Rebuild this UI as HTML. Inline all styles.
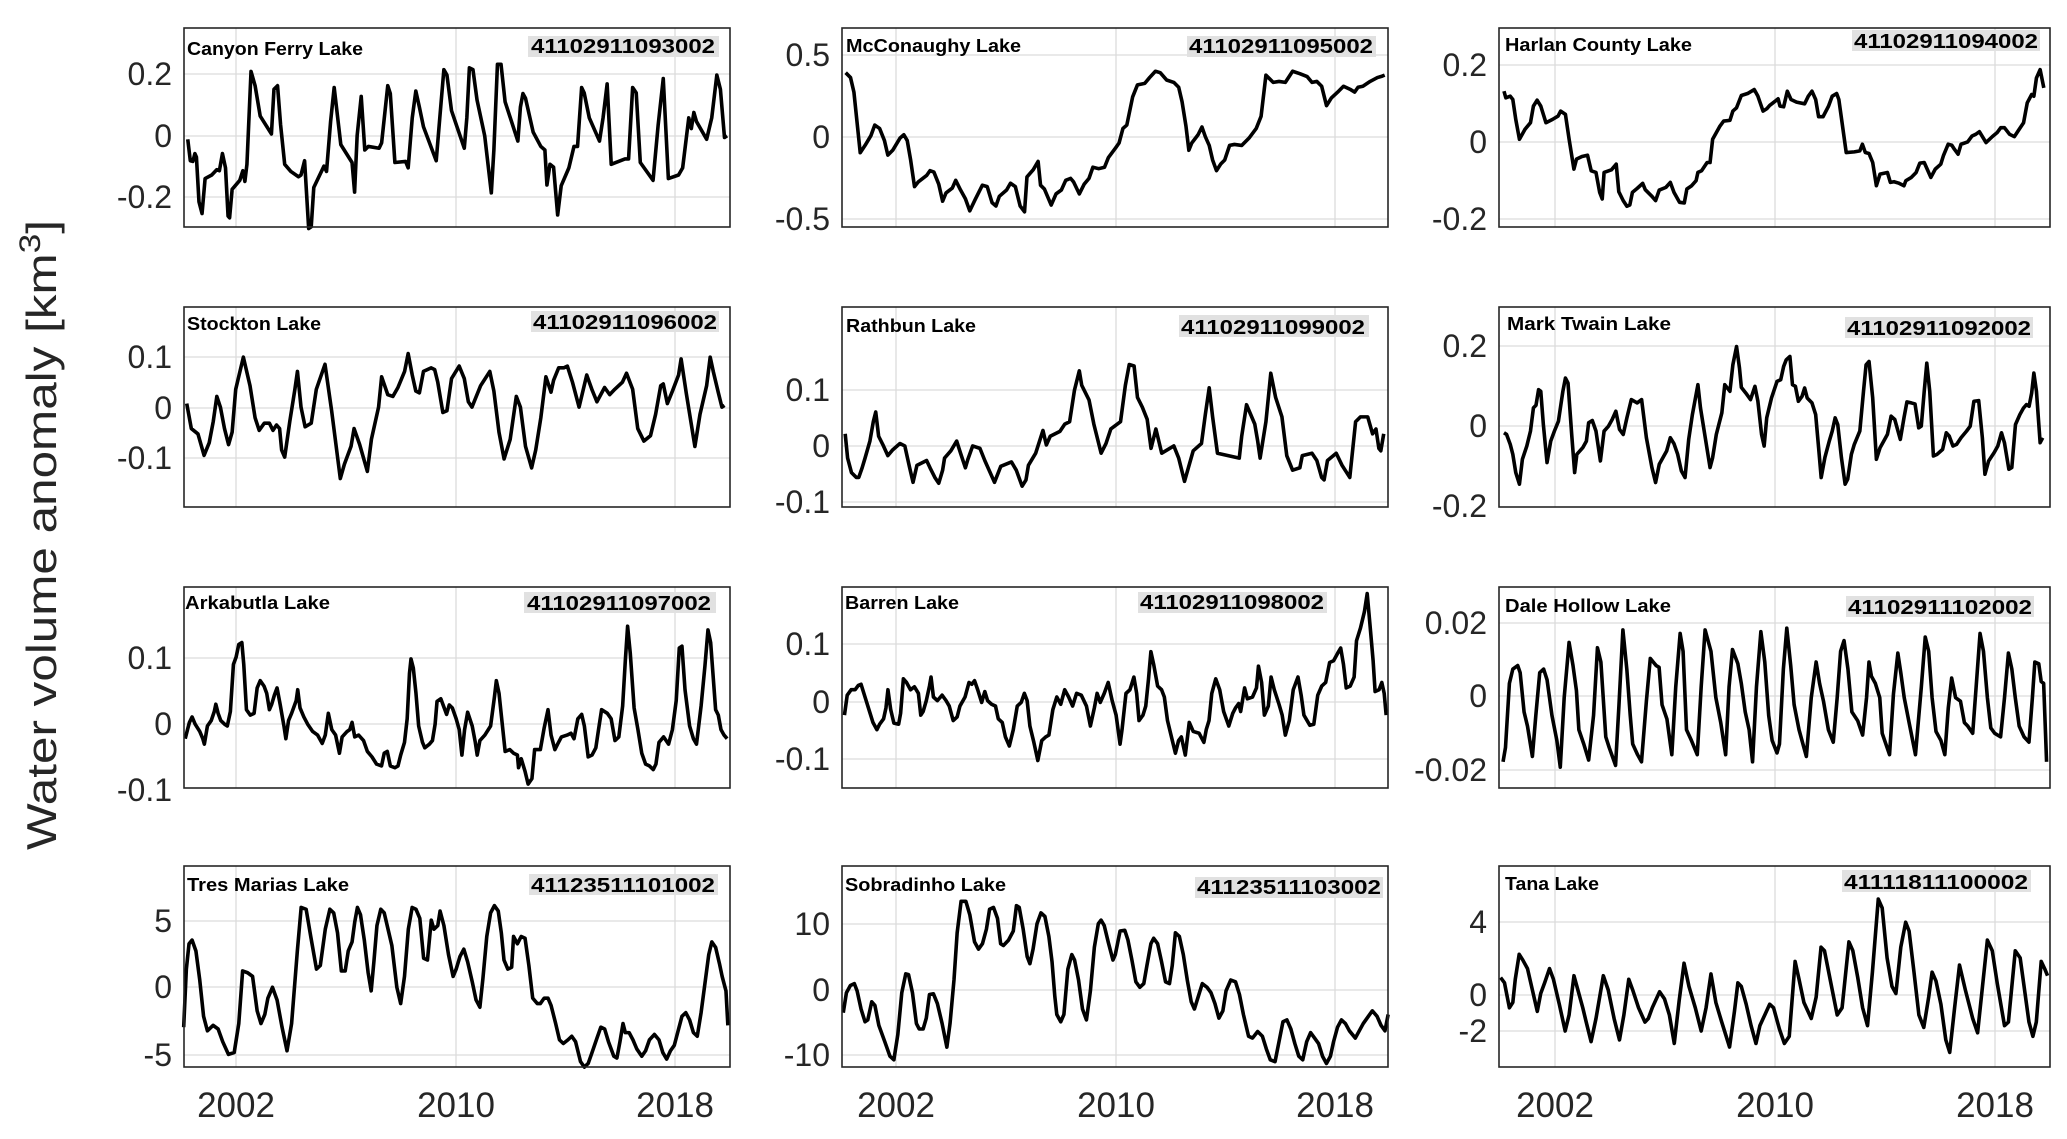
<!DOCTYPE html>
<html><head><meta charset="utf-8"><style>
html,body{margin:0;padding:0;background:#fff;}
svg{display:block;}
.ax{fill:none;stroke:#262626;stroke-width:1.6;}
.g{stroke:#dcdcdc;stroke-width:1.3;}
.tk{font-family:"Liberation Sans",Arial,sans-serif;font-size:32px;fill:#262626;text-anchor:end;}
.yr{font-family:"Liberation Sans",Arial,sans-serif;font-size:35px;fill:#262626;text-anchor:middle;}
.nm{font-family:"Liberation Sans",Arial,sans-serif;font-size:18px;font-weight:bold;fill:#000;}
.id{font-family:"Liberation Sans",Arial,sans-serif;font-size:20px;font-weight:bold;fill:#000;}
.bx{fill:#e1e1e1;}
.ln{fill:none;stroke:#000;stroke-width:3.6;stroke-linejoin:round;vector-effect:non-scaling-stroke;}
</style></head><body>
<svg width="2067" height="1139" viewBox="0 0 2067 1139" xmlns="http://www.w3.org/2000/svg">
<g class="g">
<line x1="236" y1="28" x2="236" y2="227"/><line x1="456" y1="28" x2="456" y2="227"/><line x1="675" y1="28" x2="675" y2="227"/>
<line x1="236" y1="307" x2="236" y2="507"/><line x1="456" y1="307" x2="456" y2="507"/><line x1="675" y1="307" x2="675" y2="507"/>
<line x1="236" y1="587" x2="236" y2="788"/><line x1="456" y1="587" x2="456" y2="788"/><line x1="675" y1="587" x2="675" y2="788"/>
<line x1="236" y1="866" x2="236" y2="1067"/><line x1="456" y1="866" x2="456" y2="1067"/><line x1="675" y1="866" x2="675" y2="1067"/>
<line x1="896" y1="28" x2="896" y2="227"/><line x1="1116" y1="28" x2="1116" y2="227"/><line x1="1335" y1="28" x2="1335" y2="227"/>
<line x1="896" y1="307" x2="896" y2="507"/><line x1="1116" y1="307" x2="1116" y2="507"/><line x1="1335" y1="307" x2="1335" y2="507"/>
<line x1="896" y1="587" x2="896" y2="788"/><line x1="1116" y1="587" x2="1116" y2="788"/><line x1="1335" y1="587" x2="1335" y2="788"/>
<line x1="896" y1="866" x2="896" y2="1067"/><line x1="1116" y1="866" x2="1116" y2="1067"/><line x1="1335" y1="866" x2="1335" y2="1067"/>
<line x1="1555" y1="28" x2="1555" y2="227"/><line x1="1775" y1="28" x2="1775" y2="227"/><line x1="1995" y1="28" x2="1995" y2="227"/>
<line x1="1555" y1="307" x2="1555" y2="507"/><line x1="1775" y1="307" x2="1775" y2="507"/><line x1="1995" y1="307" x2="1995" y2="507"/>
<line x1="1555" y1="587" x2="1555" y2="788"/><line x1="1775" y1="587" x2="1775" y2="788"/><line x1="1995" y1="587" x2="1995" y2="788"/>
<line x1="1555" y1="866" x2="1555" y2="1067"/><line x1="1775" y1="866" x2="1775" y2="1067"/><line x1="1995" y1="866" x2="1995" y2="1067"/>
<line x1="184" y1="74" x2="730" y2="74"/><line x1="184" y1="136" x2="730" y2="136"/><line x1="184" y1="197" x2="730" y2="197"/>
<line x1="842" y1="55" x2="1388" y2="55"/><line x1="842" y1="137" x2="1388" y2="137"/><line x1="842" y1="219" x2="1388" y2="219"/>
<line x1="1499" y1="65" x2="2050" y2="65"/><line x1="1499" y1="142" x2="2050" y2="142"/><line x1="1499" y1="219" x2="2050" y2="219"/>
<line x1="184" y1="357" x2="730" y2="357"/><line x1="184" y1="408" x2="730" y2="408"/><line x1="184" y1="458" x2="730" y2="458"/>
<line x1="842" y1="390" x2="1388" y2="390"/><line x1="842" y1="446" x2="1388" y2="446"/><line x1="842" y1="502" x2="1388" y2="502"/>
<line x1="1499" y1="346" x2="2050" y2="346"/><line x1="1499" y1="426" x2="2050" y2="426"/>
<line x1="184" y1="658" x2="730" y2="658"/><line x1="184" y1="724" x2="730" y2="724"/>
<line x1="842" y1="644" x2="1388" y2="644"/><line x1="842" y1="702" x2="1388" y2="702"/><line x1="842" y1="759" x2="1388" y2="759"/>
<line x1="1499" y1="623" x2="2050" y2="623"/><line x1="1499" y1="696" x2="2050" y2="696"/><line x1="1499" y1="770" x2="2050" y2="770"/>
<line x1="184" y1="921" x2="730" y2="921"/><line x1="184" y1="987" x2="730" y2="987"/><line x1="184" y1="1055" x2="730" y2="1055"/>
<line x1="842" y1="924" x2="1388" y2="924"/><line x1="842" y1="990" x2="1388" y2="990"/><line x1="842" y1="1055" x2="1388" y2="1055"/>
<line x1="1499" y1="922" x2="2050" y2="922"/><line x1="1499" y1="995" x2="2050" y2="995"/><line x1="1499" y1="1031" x2="2050" y2="1031"/>
</g>

<rect class="bx" x="528" y="36" width="191" height="21"/>
<rect class="bx" x="1187" y="36" width="189" height="21"/>
<rect class="bx" x="1852" y="30" width="188" height="21"/>
<rect class="bx" x="531" y="311" width="188" height="21"/>
<rect class="bx" x="1179" y="315" width="190" height="22"/>
<rect class="bx" x="1845" y="317" width="188" height="21"/>
<rect class="bx" x="524" y="592" width="192" height="21"/>
<rect class="bx" x="1138" y="592" width="189" height="21"/>
<rect class="bx" x="1846" y="596" width="188" height="21"/>
<rect class="bx" x="529" y="874" width="189" height="21"/>
<rect class="bx" x="1195" y="877" width="188" height="21"/>
<rect class="bx" x="1842" y="870" width="189" height="22"/>

<text class="id" x="531" y="53" textLength="184" lengthAdjust="spacingAndGlyphs">41102911093002</text>
<text class="id" x="1189" y="53" textLength="184" lengthAdjust="spacingAndGlyphs">41102911095002</text>
<text class="id" x="1854" y="48" textLength="184" lengthAdjust="spacingAndGlyphs">41102911094002</text>
<text class="id" x="533" y="329" textLength="184" lengthAdjust="spacingAndGlyphs">41102911096002</text>
<text class="id" x="1181" y="334" textLength="184" lengthAdjust="spacingAndGlyphs">41102911099002</text>
<text class="id" x="1847" y="335" textLength="184" lengthAdjust="spacingAndGlyphs">41102911092002</text>
<text class="id" x="527" y="610" textLength="184" lengthAdjust="spacingAndGlyphs">41102911097002</text>
<text class="id" x="1140" y="609" textLength="184" lengthAdjust="spacingAndGlyphs">41102911098002</text>
<text class="id" x="1848" y="614" textLength="184" lengthAdjust="spacingAndGlyphs">41102911102002</text>
<text class="id" x="531" y="892" textLength="184" lengthAdjust="spacingAndGlyphs">41123511101002</text>
<text class="id" x="1197" y="894" textLength="184" lengthAdjust="spacingAndGlyphs">41123511103002</text>
<text class="id" x="1844" y="889" textLength="184" lengthAdjust="spacingAndGlyphs">41111811100002</text>

<text class="nm" x="187" y="55" textLength="176" lengthAdjust="spacingAndGlyphs">Canyon Ferry Lake</text>
<text class="nm" x="846" y="52" textLength="175" lengthAdjust="spacingAndGlyphs">McConaughy Lake</text>
<text class="nm" x="1505" y="51" textLength="187" lengthAdjust="spacingAndGlyphs">Harlan County Lake</text>
<text class="nm" x="187" y="330" textLength="134" lengthAdjust="spacingAndGlyphs">Stockton Lake</text>
<text class="nm" x="846" y="332" textLength="130" lengthAdjust="spacingAndGlyphs">Rathbun Lake</text>
<text class="nm" x="1507" y="330" textLength="164" lengthAdjust="spacingAndGlyphs">Mark Twain Lake</text>
<text class="nm" x="185" y="609" textLength="145" lengthAdjust="spacingAndGlyphs">Arkabutla Lake</text>
<text class="nm" x="845" y="609" textLength="114" lengthAdjust="spacingAndGlyphs">Barren Lake</text>
<text class="nm" x="1505" y="612" textLength="166" lengthAdjust="spacingAndGlyphs">Dale Hollow Lake</text>
<text class="nm" x="187" y="891" textLength="162" lengthAdjust="spacingAndGlyphs">Tres Marias Lake</text>
<text class="nm" x="845" y="891" textLength="161" lengthAdjust="spacingAndGlyphs">Sobradinho Lake</text>
<text class="nm" x="1505" y="890" textLength="94" lengthAdjust="spacingAndGlyphs">Tana Lake</text>

<g transform="translate(0,0) scale(0.5102,0.35714)">
<polyline class="ln" points="368,390 373,450 378,452 382,430 385,440 390,565 396,598 402,500 415,490 425,475 430,478 436,430 442,470 447,605 450,610 455,530 470,505 476,478 480,508 484,460 492,200 500,240 510,325 532,375 537,250 544,240 550,350 558,460 570,480 585,495 590,490 597,450 605,640 610,635 615,525 635,465 640,480 648,340 655,245 668,405 690,455 695,538 700,380 708,270 715,420 722,410 743,415 748,400 760,240 765,262 774,455 795,452 800,470 808,330 815,255 822,300 830,355 855,450 862,330 870,195 876,210 885,310 910,415 915,330 920,190 927,195 935,280 950,380 963,540 968,420 975,180 982,180 990,285 1015,395 1020,300 1025,262 1030,275 1045,370 1060,410 1068,420 1072,518 1078,460 1085,468 1093,602 1100,520 1115,470 1125,410 1132,410 1140,245 1145,260 1155,330 1175,395 1182,330 1190,235 1198,460 1225,445 1232,445 1240,245 1247,260 1255,455 1280,505 1290,350 1300,220 1310,500 1330,490 1338,470 1350,330 1355,360 1360,315 1365,340 1385,390 1395,330 1405,210 1412,250 1420,385 1425,380"/>
<polyline class="ln" points="366,1130 375,1200 388,1215 400,1275 410,1240 418,1180 425,1110 432,1140 440,1200 448,1245 455,1210 462,1090 477,1000 490,1080 500,1170 508,1205 518,1185 528,1185 535,1205 542,1190 548,1200 552,1260 558,1280 568,1180 578,1090 583,1040 590,1140 598,1195 610,1185 620,1090 637,1020 650,1150 667,1340 675,1300 688,1250 694,1200 705,1245 720,1320 728,1230 742,1140 748,1055 760,1105 770,1110 780,1085 793,1040 800,990 808,1050 815,1095 822,1100 830,1040 845,1030 852,1035 858,1070 868,1155 876,1150 885,1060 900,1025 910,1060 918,1125 925,1140 942,1080 960,1040 968,1095 978,1210 988,1285 1000,1230 1012,1110 1020,1140 1030,1250 1042,1310 1050,1260 1060,1170 1070,1055 1080,1098 1085,1065 1095,1030 1105,1030 1112,1025 1122,1070 1135,1140 1150,1050 1160,1090 1170,1125 1185,1085 1195,1105 1205,1090 1220,1070 1228,1045 1240,1090 1250,1200 1262,1235 1275,1220 1285,1160 1295,1080 1300,1075 1308,1130 1318,1095 1330,1050 1335,1005 1345,1100 1362,1250 1372,1160 1385,1080 1392,1000 1398,1040 1408,1100 1415,1140 1420,1135"/>
</g>
<g transform="translate(740,0) scale(0.48473)">
<polyline class="ln" points="218,150 228,160 235,190 248,315 258,300 270,280 278,258 288,265 298,290 305,320 315,310 330,285 338,278 345,290 352,330 360,385 368,375 385,362 392,352 400,355 410,380 418,415 425,398 438,388 445,372 455,392 465,410 474,435 485,412 500,382 510,385 520,418 528,425 535,405 550,392 558,378 568,385 578,425 587,437 592,365 605,350 615,333 620,382 628,390 642,423 652,400 663,392 672,372 682,368 688,375 700,400 710,380 720,368 728,345 740,348 752,345 760,325 775,305 782,295 790,265 798,258 810,200 820,175 835,172 845,160 857,147 867,150 880,165 895,170 905,180 912,210 920,260 926,310 932,295 945,278 953,262 960,282 968,300 975,330 983,352 992,338 1000,330 1010,300 1020,298 1035,300 1050,285 1065,265 1075,240 1085,155 1100,170 1112,168 1125,170 1140,147 1155,152 1170,158 1180,170 1190,168 1200,178 1210,218 1220,202 1235,188 1245,178 1260,185 1268,190 1275,180 1285,178 1300,168 1315,160 1325,157 1330,155"/>
<polyline class="ln" points="217,895 222,945 230,975 240,985 245,985 252,965 258,945 268,910 275,870 280,850 286,900 296,920 305,940 315,928 330,915 340,920 350,965 357,995 365,960 385,950 392,965 402,985 410,997 418,970 422,945 435,930 447,910 455,935 465,965 470,948 480,920 495,925 505,950 525,995 538,962 560,953 570,970 582,1003 590,990 595,960 610,935 625,888 632,918 640,900 660,890 670,875 680,870 690,805 700,765 705,795 720,825 730,875 745,935 755,915 765,885 785,870 795,795 803,752 813,755 820,820 830,840 840,865 848,925 858,885 870,935 895,920 905,945 917,993 925,965 935,930 952,915 960,855 968,800 975,860 985,935 1030,945 1035,900 1045,835 1062,875 1068,910 1073,945 1085,870 1095,770 1105,820 1118,860 1128,940 1140,970 1155,965 1160,940 1180,935 1190,950 1200,985 1205,990 1212,950 1230,935 1242,960 1258,985 1270,870 1280,860 1295,860 1305,895 1312,885 1318,925 1322,930 1328,895"/>
</g>
<g transform="translate(1490,0) scale(0.36798,0.33163)">
<polyline class="ln" points="38,275 43,295 55,290 62,300 70,360 80,420 95,390 110,370 118,320 128,302 138,320 152,370 170,360 185,350 192,335 205,345 215,420 228,510 235,480 250,472 265,468 275,515 288,520 298,580 305,600 310,520 330,512 343,495 350,578 362,605 372,622 380,618 387,580 400,568 415,553 422,572 440,592 450,605 460,573 478,565 490,550 500,580 515,610 528,612 535,570 548,560 560,545 565,520 575,515 590,490 598,490 605,420 615,400 625,380 635,365 652,363 660,335 670,325 683,288 700,282 718,270 728,290 742,335 752,328 760,318 775,305 783,298 788,320 798,322 808,275 818,300 833,308 855,313 865,290 875,275 885,300 893,352 905,352 920,320 930,290 942,282 948,300 958,380 968,460 990,458 1005,455 1012,435 1020,460 1030,463 1040,490 1050,560 1060,525 1080,520 1088,550 1098,548 1110,552 1125,560 1130,545 1145,535 1158,520 1168,492 1180,490 1190,515 1198,535 1210,510 1225,495 1232,470 1245,435 1255,438 1262,450 1272,465 1280,435 1298,428 1310,410 1320,405 1330,397 1348,430 1365,412 1378,400 1388,385 1398,385 1412,405 1425,412 1435,395 1450,370 1460,310 1472,285 1478,290 1485,235 1495,210 1505,265"/>
<polyline class="ln" points="38,1305 45,1310 55,1340 62,1370 70,1425 80,1460 88,1385 100,1345 110,1300 118,1230 125,1222 132,1175 138,1180 145,1280 155,1395 165,1330 175,1300 186,1270 198,1180 205,1140 212,1155 222,1310 230,1425 236,1370 252,1350 262,1330 268,1275 278,1268 288,1300 300,1390 310,1300 322,1285 332,1265 342,1240 352,1295 362,1310 372,1260 384,1205 400,1215 412,1205 425,1320 440,1410 450,1455 460,1400 470,1380 480,1360 490,1320 500,1338 510,1370 520,1420 530,1440 540,1325 550,1250 565,1160 572,1230 585,1320 598,1410 605,1380 615,1310 630,1245 638,1160 652,1180 660,1100 670,1045 678,1110 683,1168 695,1185 708,1205 720,1165 728,1210 738,1310 745,1345 752,1260 765,1200 780,1150 790,1145 798,1105 805,1085 815,1075 822,1160 830,1165 838,1210 848,1195 855,1170 862,1200 875,1215 885,1250 893,1350 900,1440 910,1380 922,1330 930,1300 938,1260 945,1280 955,1380 965,1460 972,1445 982,1370 990,1340 1005,1300 1015,1180 1022,1100 1030,1090 1040,1200 1050,1385 1060,1350 1075,1320 1080,1310 1090,1255 1100,1265 1115,1325 1125,1260 1133,1212 1145,1215 1155,1218 1165,1290 1172,1285 1180,1180 1187,1095 1195,1180 1205,1375 1215,1370 1230,1355 1240,1305 1248,1315 1258,1345 1268,1340 1280,1320 1295,1300 1305,1285 1315,1210 1328,1208 1338,1320 1345,1430 1355,1390 1370,1365 1380,1345 1390,1305 1398,1335 1410,1415 1418,1410 1428,1280 1440,1250 1450,1230 1458,1220 1465,1225 1472,1185 1478,1125 1485,1180 1495,1335 1502,1320"/>
</g>
<g transform="translate(150,570) scale(0.38270,0.36284)">
<polyline class="ln" points="92,465 98,440 103,420 110,405 118,425 130,445 138,465 142,480 150,430 160,415 168,390 172,370 178,395 185,415 195,425 202,430 210,390 218,260 225,240 232,205 240,200 245,260 252,385 262,400 272,395 280,325 288,305 298,320 305,340 312,385 318,370 325,345 332,325 340,370 350,430 355,465 362,415 370,395 382,360 386,330 392,380 402,405 412,425 425,445 438,455 450,478 458,455 466,395 475,440 485,455 495,505 502,460 515,445 522,440 528,420 535,460 545,455 558,470 568,500 580,515 592,535 605,540 612,505 620,500 628,540 640,545 648,540 655,510 665,475 672,410 678,285 682,245 688,270 695,340 702,430 712,475 718,490 730,480 738,470 745,425 750,362 760,355 768,378 775,398 782,372 790,380 800,410 808,440 815,510 822,440 830,392 842,430 850,475 855,510 862,470 875,455 890,430 900,350 905,305 912,340 920,420 928,500 940,495 950,505 960,510 963,545 970,520 980,555 988,590 998,575 1005,495 1020,495 1030,435 1040,385 1048,455 1058,495 1065,480 1075,460 1090,455 1100,450 1108,465 1118,410 1128,398 1135,430 1145,515 1155,510 1165,490 1172,440 1180,385 1195,395 1205,410 1215,470 1225,460 1235,375 1242,250 1248,155 1255,230 1265,380 1275,440 1285,505 1295,535 1305,540 1315,550 1322,535 1330,475 1342,460 1355,480 1365,440 1375,360 1383,215 1390,210 1398,330 1410,430 1420,465 1428,480 1440,375 1450,265 1458,165 1465,200 1472,300 1478,385 1485,400 1492,440 1500,455 1508,465"/>
<polyline class="ln" points="88,1260 95,1100 102,1030 110,1020 120,1050 130,1130 140,1230 150,1270 165,1255 178,1265 190,1300 205,1335 220,1330 232,1250 242,1105 255,1110 268,1120 280,1215 290,1250 300,1225 308,1180 320,1150 332,1185 345,1260 358,1325 370,1250 385,1050 395,930 408,935 420,1010 435,1100 445,1090 458,990 470,935 480,945 490,1000 500,1105 510,1105 518,1050 528,1025 535,970 542,930 550,950 560,1020 570,1110 578,1160 585,1080 593,980 603,935 612,945 622,990 632,1035 645,1150 655,1195 665,1120 675,990 685,930 695,935 705,960 715,1070 725,1075 735,965 742,990 752,980 758,940 768,980 780,1060 792,1120 800,1100 810,1065 820,1045 830,1080 842,1135 852,1185 862,1205 870,1125 880,1010 890,945 900,925 910,940 918,1000 925,1075 935,1100 945,1095 950,1010 960,1030 970,1010 980,1015 990,1090 1000,1180 1012,1195 1020,1195 1030,1180 1040,1180 1048,1200 1060,1250 1070,1295 1080,1305 1092,1295 1102,1285 1112,1300 1125,1355 1135,1370 1145,1360 1155,1330 1168,1290 1178,1260 1188,1265 1198,1300 1212,1340 1220,1345 1228,1300 1236,1250 1242,1275 1252,1275 1262,1295 1272,1320 1285,1340 1295,1325 1305,1295 1318,1280 1330,1295 1340,1330 1350,1348 1360,1325 1370,1310 1380,1270 1390,1230 1400,1220 1410,1240 1420,1275 1430,1285 1440,1220 1450,1140 1460,1060 1468,1025 1478,1040 1488,1085 1495,1120 1505,1160 1510,1255"/>
</g>
<g transform="translate(780,570) scale(0.39541,0.36284)">
<polyline class="ln" points="163,400 170,345 180,330 190,330 198,318 205,315 215,350 225,385 235,420 245,440 252,425 262,410 268,380 273,330 280,385 288,422 300,425 305,395 312,300 320,310 330,330 340,322 350,340 356,400 362,390 370,360 378,320 382,295 388,350 398,360 410,345 420,360 428,375 438,415 448,405 455,375 468,350 478,310 485,315 492,305 500,330 510,365 518,335 525,360 535,370 545,375 552,410 562,420 570,460 580,485 590,440 600,375 610,365 618,340 625,360 632,430 642,475 652,525 662,470 672,460 680,455 690,385 700,350 710,370 720,330 730,350 740,375 750,340 762,345 775,375 785,430 795,380 802,340 810,365 820,340 830,310 840,360 850,400 860,480 865,440 875,340 885,330 895,295 902,340 908,415 918,400 925,375 932,300 938,225 945,260 955,320 965,330 972,350 980,415 990,460 1000,505 1008,470 1015,460 1025,510 1035,420 1045,445 1060,450 1072,475 1078,440 1085,415 1092,340 1102,300 1112,330 1122,390 1135,430 1145,395 1152,380 1160,368 1165,390 1175,325 1182,355 1195,350 1205,325 1210,265 1218,310 1225,400 1235,375 1242,295 1250,330 1262,370 1270,400 1278,455 1288,415 1298,330 1310,295 1318,345 1325,400 1340,428 1350,425 1360,345 1370,320 1380,310 1390,255 1400,250 1410,230 1418,215 1425,260 1432,325 1442,320 1452,295 1458,195 1468,160 1478,115 1485,65 1492,150 1500,250 1505,335 1515,330 1522,310 1528,340 1533,400"/>
<polyline class="ln" points="160,1220 168,1165 178,1145 188,1140 195,1160 205,1210 215,1245 222,1240 232,1190 240,1200 250,1255 265,1300 278,1340 288,1350 298,1280 308,1165 318,1113 325,1115 335,1165 345,1250 352,1265 362,1265 370,1235 378,1170 388,1168 398,1195 410,1250 422,1315 430,1250 440,1130 448,1000 458,913 470,913 480,950 492,1025 502,1045 512,1030 522,990 530,935 540,930 550,960 558,1030 565,1035 578,1020 590,995 598,925 605,930 615,990 625,1065 632,1085 640,1045 650,975 660,945 670,955 680,1010 688,1080 695,1175 700,1225 710,1245 718,1225 728,1100 738,1060 745,1075 755,1130 765,1210 775,1240 785,1160 795,1040 805,975 812,965 820,980 830,1025 842,1075 848,1060 860,995 872,993 880,1020 890,1075 900,1135 910,1150 920,1140 928,1090 938,1030 945,1015 955,1030 965,1080 975,1135 985,1140 992,1090 1000,1000 1010,1010 1020,1060 1030,1130 1040,1190 1048,1210 1058,1175 1068,1140 1080,1150 1090,1165 1100,1195 1110,1235 1120,1215 1128,1160 1140,1130 1152,1135 1162,1170 1172,1225 1185,1285 1195,1290 1208,1272 1220,1285 1230,1320 1240,1350 1252,1355 1262,1300 1272,1245 1282,1240 1292,1265 1302,1305 1312,1340 1322,1350 1332,1300 1342,1275 1352,1290 1362,1305 1372,1340 1382,1360 1392,1340 1400,1300 1410,1260 1420,1240 1430,1250 1440,1270 1455,1290 1465,1270 1475,1250 1488,1230 1498,1215 1510,1230 1520,1255 1530,1270 1538,1225"/>
</g>
<g transform="translate(1300,580) scale(0.48924,0.35651)">
<polyline class="ln" points="415,510 420,470 428,290 435,250 445,240 450,260 458,370 465,410 475,495 482,380 490,260 498,250 505,280 515,380 525,450 532,525 540,330 550,175 558,240 565,310 570,420 580,460 590,505 600,380 608,190 615,230 625,440 632,470 645,520 652,350 660,140 668,250 675,380 680,460 690,490 698,510 708,340 716,220 722,230 728,240 734,245 740,350 750,390 760,490 768,300 777,150 783,200 790,420 800,450 812,490 820,300 828,140 840,200 850,330 860,400 870,490 877,300 884,195 895,235 902,290 910,370 918,420 925,510 933,300 942,145 950,230 958,380 965,450 975,485 980,460 988,250 995,135 1003,240 1010,350 1020,420 1035,495 1045,330 1055,230 1062,290 1070,340 1080,420 1090,455 1098,330 1105,200 1112,170 1120,250 1128,370 1140,395 1150,435 1158,330 1163,230 1168,270 1176,290 1185,330 1190,430 1205,490 1213,320 1222,205 1228,260 1235,330 1245,400 1258,490 1270,300 1278,160 1285,200 1292,330 1300,425 1310,450 1318,490 1325,360 1332,275 1340,330 1350,340 1358,400 1365,410 1375,430 1382,300 1390,150 1397,200 1405,330 1412,415 1420,430 1432,440 1440,330 1448,205 1455,250 1462,330 1470,410 1480,440 1490,455 1497,330 1502,230 1510,235 1515,285 1520,290 1526,510"/>
<polyline class="ln" points="410,1115 418,1130 428,1200 435,1185 440,1120 448,1050 455,1065 465,1090 475,1150 485,1210 492,1160 500,1130 510,1090 518,1120 530,1190 542,1265 550,1220 560,1110 568,1150 578,1200 585,1240 595,1295 605,1230 620,1110 630,1150 642,1230 653,1290 662,1220 672,1120 680,1150 692,1200 705,1240 712,1230 720,1200 735,1155 745,1175 755,1220 765,1300 775,1180 785,1075 795,1140 808,1200 820,1265 830,1200 840,1105 850,1185 862,1240 878,1310 888,1210 895,1130 902,1140 912,1190 922,1250 932,1300 940,1250 950,1220 960,1190 968,1200 980,1260 990,1300 1000,1280 1012,1070 1020,1120 1030,1185 1045,1230 1055,1170 1065,1030 1072,1040 1085,1130 1098,1220 1108,1200 1122,1015 1130,1040 1140,1115 1150,1200 1160,1250 1170,1100 1182,895 1190,920 1200,1060 1210,1140 1218,1160 1228,1030 1238,960 1245,985 1255,1100 1265,1220 1275,1255 1285,1170 1292,1100 1300,1125 1310,1190 1320,1290 1328,1325 1338,1200 1348,1080 1360,1150 1375,1230 1385,1270 1395,1140 1405,1010 1415,1040 1425,1130 1440,1250 1448,1240 1462,1040 1472,1060 1480,1140 1490,1240 1498,1280 1505,1240 1515,1070 1522,1090 1528,1110"/>
</g>

<g class="ax">
<rect x="184" y="28" width="546" height="199"/><rect x="842" y="28" width="546" height="199"/><rect x="1499" y="28" width="551" height="199"/>
<rect x="184" y="307" width="546" height="200"/><rect x="842" y="307" width="546" height="200"/><rect x="1499" y="307" width="551" height="200"/>
<rect x="184" y="587" width="546" height="201"/><rect x="842" y="587" width="546" height="201"/><rect x="1499" y="587" width="551" height="201"/>
<rect x="184" y="866" width="546" height="201"/><rect x="842" y="866" width="546" height="201"/><rect x="1499" y="866" width="551" height="201"/>
</g>

<g class="tk">
<text x="172" y="85">0.2</text><text x="172" y="147">0</text><text x="172" y="208">-0.2</text>
<text x="830" y="66">0.5</text><text x="830" y="148">0</text><text x="830" y="230">-0.5</text>
<text x="1487" y="76">0.2</text><text x="1487" y="153">0</text><text x="1487" y="230">-0.2</text>
<text x="172" y="368">0.1</text><text x="172" y="419">0</text><text x="172" y="469">-0.1</text>
<text x="830" y="401">0.1</text><text x="830" y="457">0</text><text x="830" y="513">-0.1</text>
<text x="1487" y="357">0.2</text><text x="1487" y="437">0</text><text x="1487" y="517">-0.2</text>
<text x="172" y="669">0.1</text><text x="172" y="735">0</text><text x="172" y="801">-0.1</text>
<text x="830" y="655">0.1</text><text x="830" y="713">0</text><text x="830" y="770">-0.1</text>
<text x="1487" y="634">0.02</text><text x="1487" y="707">0</text><text x="1487" y="781">-0.02</text>
<text x="172" y="932">5</text><text x="172" y="998">0</text><text x="172" y="1066">-5</text>
<text x="830" y="935">10</text><text x="830" y="1001">0</text><text x="830" y="1066">-10</text>
<text x="1487" y="933">4</text><text x="1487" y="1006">0</text><text x="1487" y="1042">-2</text>
</g>
<g class="yr">
<text x="236" y="1117">2002</text><text x="456" y="1117">2010</text><text x="675" y="1117">2018</text>
<text x="896" y="1117">2002</text><text x="1116" y="1117">2010</text><text x="1335" y="1117">2018</text>
<text x="1555" y="1117">2002</text><text x="1775" y="1117">2010</text><text x="1995" y="1117">2018</text>
</g>
<text transform="translate(56,535) rotate(-90)" text-anchor="middle" font-family="'Liberation Sans',Arial,sans-serif" font-size="42" fill="#262626" textLength="630" lengthAdjust="spacingAndGlyphs">Water volume anomaly [km<tspan font-size="30" baseline-shift="super">3</tspan>]</text>
</svg>
</body></html>
